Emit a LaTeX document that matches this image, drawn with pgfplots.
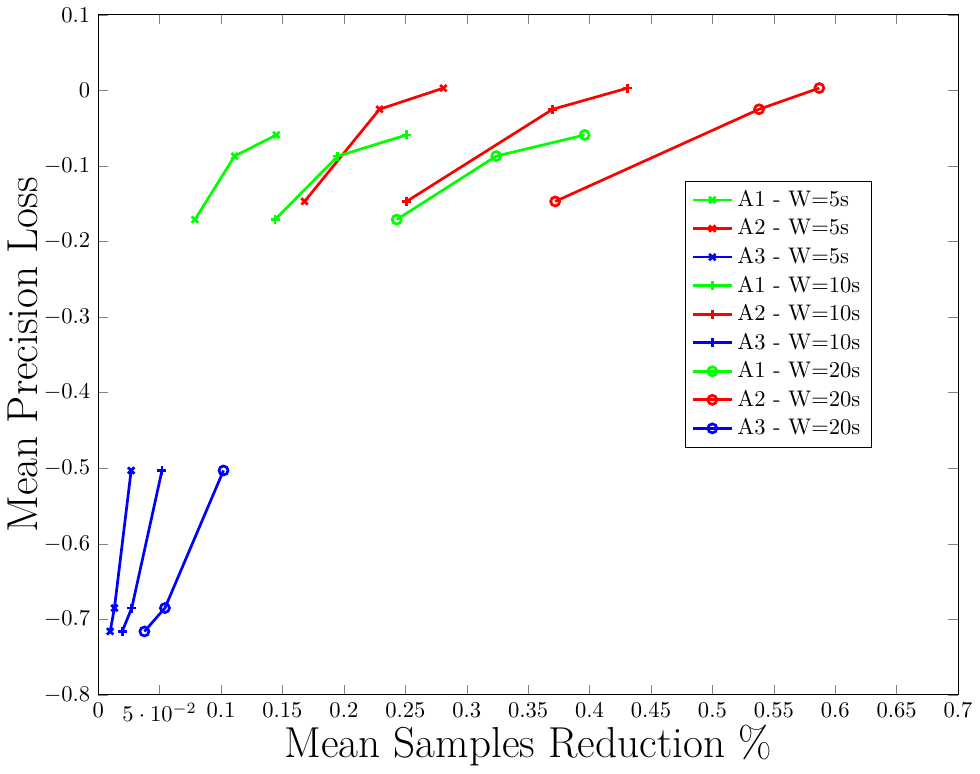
\documentclass[border=0pt]{standalone}
\usepackage{pgfplots}
\pgfplotsset{compat=1.18}
\begin{document}
\begin{tikzpicture}
\begin{axis}[
  scale only axis,
  width=13.4cm, height=10.6cm,
  xmin=0, xmax=0.7, ymin=-0.8, ymax=0.1,
  xtick={0,0.05,...,0.7},
  ytick={-0.8,-0.7,...,0.1},
  xlabel={Mean Samples Reduction \%},
  ylabel={Mean Precision Loss},
  label style={font=\fontsize{19.2}{22}\selectfont},
  xlabel style={yshift=5pt},
  ylabel style={yshift=-4pt},
  legend style={at={(0.9,0.756)},anchor=north east,font=\normalsize},
  legend cell align=left,
  every axis plot/.append style={very thick},
]
\addplot[color=green, mark=x] coordinates {(0.0787,-0.171) (0.111,-0.087) (0.145,-0.059)};
\addlegendentry{A1 - W=5s}
\addplot[color=red, mark=x] coordinates {(0.168,-0.147) (0.229,-0.025) (0.281,0.003)};
\addlegendentry{A2 - W=5s}
\addplot[color=blue, mark=x] coordinates {(0.0097,-0.716) (0.0132,-0.685) (0.0268,-0.503)};
\addlegendentry{A3 - W=5s}
\addplot[color=green, mark=+] coordinates {(0.144,-0.171) (0.195,-0.087) (0.251,-0.059)};
\addlegendentry{A1 - W=10s}
\addplot[color=red, mark=+] coordinates {(0.251,-0.147) (0.370,-0.025) (0.431,0.003)};
\addlegendentry{A2 - W=10s}
\addplot[color=blue, mark=+] coordinates {(0.0195,-0.716) (0.0273,-0.685) (0.0519,-0.503)};
\addlegendentry{A3 - W=10s}
\addplot[color=green, mark=o] coordinates {(0.243,-0.171) (0.324,-0.087) (0.396,-0.059)};
\addlegendentry{A1 - W=20s}
\addplot[color=red, mark=o] coordinates {(0.372,-0.147) (0.538,-0.025) (0.587,0.003)};
\addlegendentry{A2 - W=20s}
\addplot[color=blue, mark=o] coordinates {(0.0376,-0.716) (0.0543,-0.685) (0.102,-0.503)};
\addlegendentry{A3 - W=20s}
\end{axis}
\end{tikzpicture}
\end{document}
